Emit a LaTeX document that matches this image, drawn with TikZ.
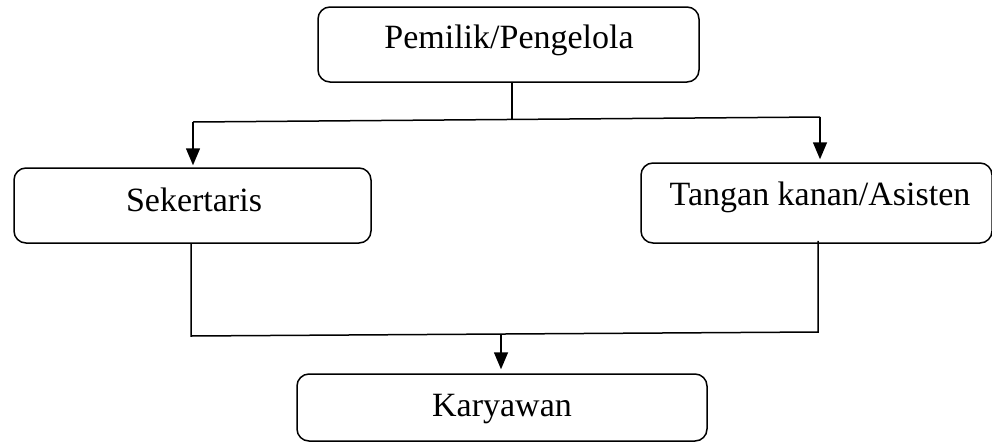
\documentclass[tikz,border=0pt]{standalone}
\usepackage{fontspec}
\setmainfont{Liberation Serif}
\usetikzlibrary{arrows.meta}
\begin{document}
\begin{tikzpicture}[x=1pt,y=-1pt,
  box/.style={draw, line width=1.5pt, rounded corners=12pt, inner sep=0pt},
  lbl/.style={inner sep=0pt, font=\fontsize{34}{40}\selectfont},
  conn/.style={line width=1.5pt},
  arr/.style={conn, -{Triangle[width=14pt,length=17pt]}}]
\useasboundingbox (0,0) rectangle (992,442);
\node[box, minimum width=381, minimum height=75] (owner) at (508.5,44.5) {};
\node[lbl, anchor=base] (ownerT) at (509,48) {Pemilik/Pengelola};
\node[box, minimum width=357, minimum height=75] (sek) at (192.5,205.5) {};
\node[lbl, anchor=base] (sekT) at (194,211) {Sekertaris};
\node[box, minimum width=351, minimum height=80] (asis) at (816.5,203) {};
\node[lbl, anchor=base] (asisT) at (820,205) {Tangan kanan/Asisten};
\node[box, minimum width=410, minimum height=67] (kar) at (502,407.5) {};
\node[lbl, anchor=base] (karT) at (502,416) {Karyawan};
\coordinate (j1) at (512,120);
\coordinate (jl) at (193,122);
\coordinate (jr) at (820,117);
\coordinate (bl) at (191,336);
\coordinate (br) at (818,332);
\coordinate (bm) at (501,334.5);
\draw[conn] (owner.south -| j1) -- (j1);
\draw[conn] (jl) -- (jr);
\draw[arr, shorten >=2pt] (jl) -- (jl |- sek.north);
\draw[arr, shorten >=3pt] (jr) -- (jr |- asis.north);
\draw[conn] (sek.south -| bl) -- (bl) -- (br) -- ([yshift=3pt]asis.south -| br);
\draw[arr, shorten >=4pt] (bm) -- (kar.north -| bm);
\end{tikzpicture}
\end{document}
